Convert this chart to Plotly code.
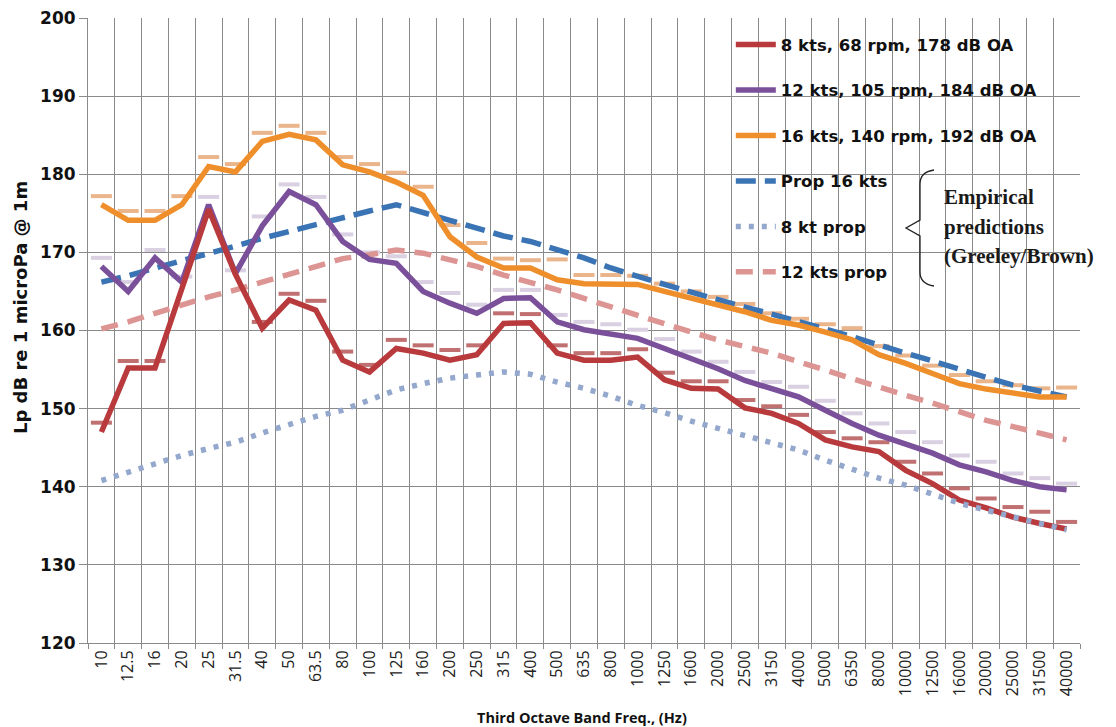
import plotly.graph_objects as go

freqs = ["10", "12.5", "16", "20", "25", "31.5", "40", "50", "63.5", "80", "100", "125",
         "160", "200", "250", "315", "400", "500", "635", "800", "1000", "1250", "1600",
         "2000", "2500", "3150", "4000", "5000", "6350", "8000", "10000", "12500", "16000",
         "20000", "25000", "31500", "40000"]

kts8 = [147.0, 155.2, 155.2, 165.6, 175.5, 167.2, 160.3, 163.9, 162.6, 156.2, 154.7, 157.7,
        157.1, 156.2, 156.9, 160.9, 161.0, 157.1, 156.2, 156.2, 156.6, 153.7, 152.6, 152.5,
        150.1, 149.4, 148.1, 146.0, 145.1, 144.5, 142.1, 140.4, 138.3, 137.3, 136.1, 135.3, 134.6]

kts12 = [168.2, 165.0, 169.3, 166.2, 176.1, 167.3, 173.4, 177.8, 176.1, 171.4, 169.1, 168.6,
         165.0, 163.5, 162.2, 164.1, 164.2, 161.1, 160.1, 159.6, 159.0, 157.7, 156.4, 155.1,
         153.6, 152.6, 151.5, 149.8, 148.1, 146.6, 145.5, 144.3, 142.8, 141.9, 140.8, 140.0, 139.6]

kts16 = [176.1, 174.1, 174.1, 176.1, 181.0, 180.3, 184.2, 185.1, 184.4, 181.2, 180.3, 179.0,
         177.3, 172.0, 169.4, 168.0, 168.0, 166.5, 166.0, 166.0, 165.9, 165.0, 164.1, 163.3,
         162.4, 161.3, 160.7, 159.8, 158.8, 156.9, 155.8, 154.5, 153.2, 152.5, 152.0, 151.5, 151.5]

prop16 = [166.2, 167.0, 168.0, 168.9, 169.9, 170.8, 171.8, 172.7, 173.6, 174.5, 175.3, 176.1,
          175.1, 174.1, 173.1, 172.1, 171.4, 170.3, 169.3, 168.0, 166.9, 165.9, 164.9, 163.9,
          163.0, 162.1, 161.2, 160.2, 159.2, 158.1, 157.1, 156.1, 155.0, 154.0, 153.0, 152.2, 151.5]

prop8 = [140.8, 141.9, 143.0, 144.0, 144.9, 145.7, 146.9, 147.9, 149.0, 149.8, 151.1, 152.4,
         153.2, 153.9, 154.3, 154.7, 154.4, 153.4, 152.6, 151.6, 150.4, 149.5, 148.4, 147.5,
         146.5, 145.7, 144.7, 143.4, 142.3, 141.1, 140.2, 139.1, 137.9, 137.0, 136.1, 135.3, 134.5]

prop12 = [160.2, 161.1, 162.2, 163.3, 164.3, 165.2, 166.2, 167.3, 168.2, 169.2, 169.7, 170.3,
          169.9, 169.0, 168.2, 167.1, 166.2, 165.2, 164.1, 163.0, 162.0, 160.9, 159.8, 158.8,
          157.9, 157.1, 156.0, 154.9, 153.9, 152.8, 151.7, 150.7, 149.6, 148.5, 147.7, 146.8, 146.0]

# offset marker glyphs visible in the source picture
kts8_marks = [148.2, 156.1, 156.1, None, None, None, 161.1, 164.7, 163.8, 157.3, 155.6, 158.8,
              158.1, 157.5, 158.1, 162.2, 162.1, 158.1, 157.1, 157.1, 157.6, 154.6, 153.5, 153.5,
              151.1, 150.3, 149.2, 147.0, 146.2, 145.7, 143.2, 141.7, 139.8, 138.5, 137.4, 136.8, 135.5]

kts12_marks = [169.3, 166.2, 170.3, 166.9, 177.1, 167.7, 174.6, 178.7, 177.1, 172.3, 170.0, 169.5,
               166.2, 164.8, 163.3, 165.2, 165.2, 162.0, 161.1, 160.8, 160.1, 158.9, 157.3, 156.0,
               154.7, 153.4, 152.8, 151.0, 149.4, 148.1, 147.0, 145.7, 144.0, 143.2, 141.7, 141.1, 140.4]

kts16_marks = [177.2, 175.3, 175.3, 177.2, 182.2, 181.3, 185.3, 186.2, 185.3, 182.2, 181.3, 180.2,
               178.4, 173.5, 171.2, 169.2, 169.0, 169.1, 167.1, 167.1, 167.0, 166.0, 165.0, 164.3,
               163.4, 162.2, 161.5, 160.8, 160.3, 158.0, 156.8, 155.5, 154.3, 153.5, 153.0, 152.6, 152.7]

legend_names = ["8 kts, 68 rpm, 178 dB OA", "12 kts, 105 rpm, 184 dB OA",
                "16 kts, 140 rpm, 192 dB OA", "Prop 16 kts", "8 kt prop", "12 kts prop"]

fig = go.Figure()

# marker glyph traces (drawn first, under lines)
for vals, col in [(kts8_marks, "#c07070"), (kts12_marks, "#d9d0e2"), (kts16_marks, "#ebb58c")]:
    fig.add_trace(go.Scatter(x=freqs, y=vals, mode="markers", showlegend=False, hoverinfo="skip",
                             marker=dict(symbol="line-ew", size=15,
                                         line=dict(color=col, width=4))))

styles = [
    (kts8, legend_names[0], "#b93a3c", "solid", 5.5),
    (kts12, legend_names[1], "#7b509b", "solid", 5.5),
    (kts16, legend_names[2], "#ef8f2c", "solid", 5.5),
    (prop16, legend_names[3], "#3b74b4", "20px,9px", 5.5),
    (prop8, legend_names[4], "#93a8cc", "5px,8px", 5.5),
    (prop12, legend_names[5], "#dc9592", "17px,10px", 5.5),
]
order = [3, 5, 2, 1, 0, 4]
for i in order:
    vals, name, col, dash, w = styles[i]
    fig.add_trace(go.Scatter(x=freqs, y=vals, mode="lines", name=name, legendrank=i + 1,
                             legendgroup=str(i), line=dict(color=col, width=w, dash=dash)))

L, R, T, B = 88, 1080, 18, 643
W, H = R - L, B - T


def px2paper(px, py):
    return (px - L) / W, 1 - (py - T) / H


# brace
pts = [(934, 170), (920, 172), (920, 184), (920, 220), (906, 228), (920, 236), (920, 272),
       (920, 284), (934, 286)]
P = [px2paper(*p) for p in pts]
path = (f"M {P[0][0]},{P[0][1]} Q {P[1][0]},{P[1][1]} {P[2][0]},{P[2][1]} "
        f"L {P[3][0]},{P[3][1]} L {P[4][0]},{P[4][1]} L {P[5][0]},{P[5][1]} "
        f"L {P[6][0]},{P[6][1]} Q {P[7][0]},{P[7][1]} {P[8][0]},{P[8][1]}")
fig.add_shape(type="path", xref="paper", yref="paper", path=path,
              line=dict(color="#222222", width=1.3))

serif = dict(family="Liberation Serif", size=21, color="#1a1a1a", weight="bold")
for txt, py in [("Empirical", 197), ("predictions", 227), ("(Greeley/Brown)", 256)]:
    ax, ay = px2paper(942, py)
    fig.add_annotation(x=ax, y=ay, xref="paper", yref="paper", text=txt, showarrow=False,
                       xanchor="left", yanchor="middle", font=serif)

# axis titles
tx, ty = px2paper(20, 308)
fig.add_annotation(x=tx, y=ty, xref="paper", yref="paper", text="Lp dB re 1 microPa @ 1m",
                   showarrow=False, textangle=-90, xanchor="center", yanchor="middle",
                   font=dict(family="DejaVu Sans", size=18, color="#111111", weight="bold"))
bx, by = px2paper(582, 717)
fig.add_annotation(x=bx, y=by, xref="paper", yref="paper", text="Third Octave Band Freq., (Hz)",
                   showarrow=False, xanchor="center", yanchor="middle",
                   font=dict(family="Open Sans", size=14.5, color="#111111", weight="bold"))

fig.update_layout(
    width=1116, height=727,
    margin=dict(l=L, r=1116 - R, t=T, b=727 - B, autoexpand=False),
    paper_bgcolor="white", plot_bgcolor="white",
    showlegend=True,
    legend=dict(x=0.648, y=0.985, xanchor="left", yanchor="top", bgcolor="rgba(0,0,0,0)",
                font=dict(family="DejaVu Sans", size=16.5, color="#111111", weight="bold"),
                traceorder="grouped", tracegroupgap=21, itemwidth=40),
    xaxis=dict(type="category", tickson="boundaries", showgrid=True, gridcolor="#8a8a8a",
               gridwidth=1, showline=True, linecolor="#8a8a8a", ticks="outside", ticklen=5,
               tickcolor="#8a8a8a", tickangle=-90, automargin=False,
               range=[-0.5, len(freqs) - 0.5], autorange=False,
               tickfont=dict(family="Open Sans", size=16, color="#222222")),
    yaxis=dict(range=[120, 200], dtick=10, showgrid=True, gridcolor="#8a8a8a", gridwidth=1,
               showline=True, linecolor="#8a8a8a", ticks="outside", ticklen=8,
               tickcolor="#8a8a8a", zeroline=False, automargin=False,
               tickfont=dict(family="DejaVu Sans", size=17, color="#111111", weight="bold")),
)

fig.write_html("out.html")
